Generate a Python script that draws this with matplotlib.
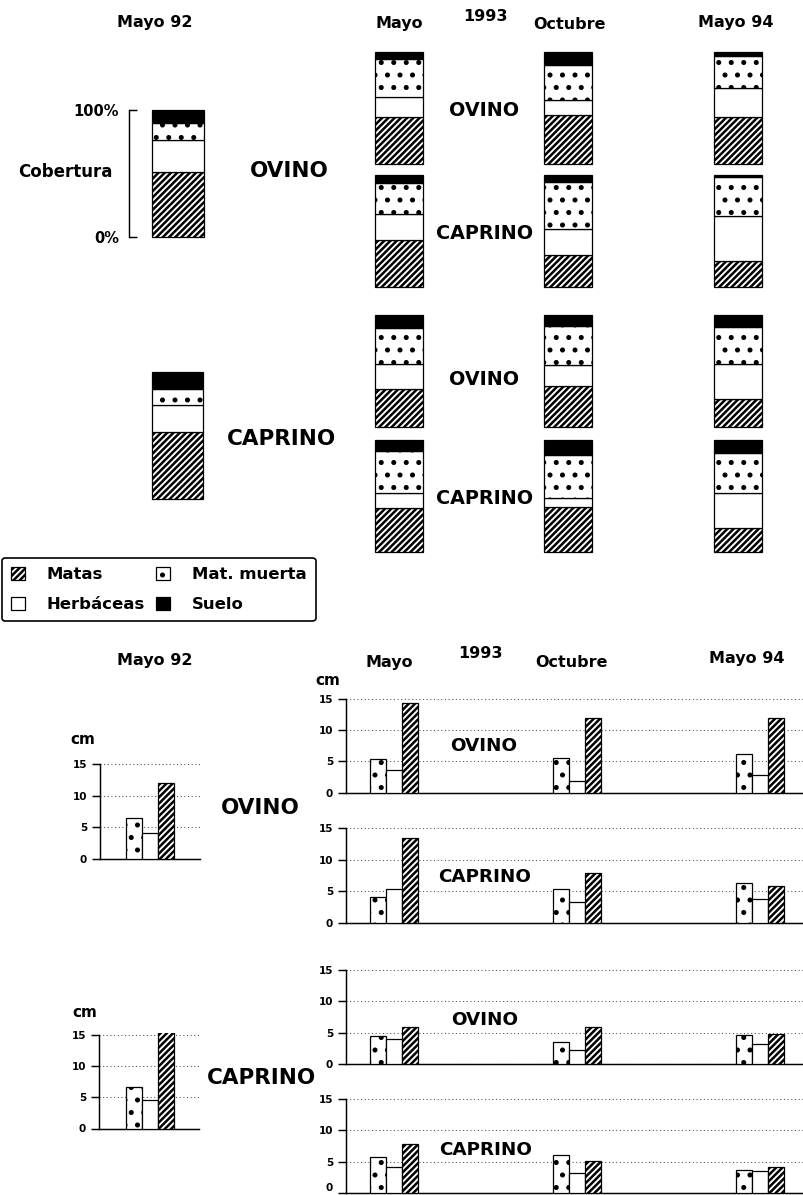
import matplotlib
matplotlib.use("Agg")
import matplotlib.pyplot as plt
import numpy as np

# ---------------------------------------------------------------------------
# Data
# ---------------------------------------------------------------------------
components = ["Matas", "Herbáceas", "Mat. muerta", "Suelo"]   # stacking order (bottom -> top)
height_components = ["Mat. muerta", "Herbáceas", "Matas"]      # bar order inside each group
fechas = ["Mayo 93", "Octubre 93", "Mayo 94"]

# Cobertura (%) in May 1992, per component (Matas, Herbáceas, Mat. muerta, Suelo)
cob_92_ovino = [51, 25.5, 13.5, 10]
cob_92_caprino = [53, 21, 12.5, 13.5]

# Cobertura (%) 1993-94: rows = components, columns = fechas
cob_ovino_ovino = [[42, 44, 42], [18, 13, 26], [34, 31, 28], [6, 12, 4]]
cob_ovino_caprino = [[42, 29, 23], [23, 23, 40], [28, 42, 35], [7, 6, 2]]
cob_caprino_ovino = [[34, 37, 25], [22, 18, 31], [32, 35, 33], [12, 10, 11]]
cob_caprino_caprino = [[39, 40, 21], [14, 8, 32], [37, 39, 35], [10, 13, 12]]

# Altura (cm) in May 1992 (Mat. muerta, Herbáceas, Matas)
alt_92_ovino = [6.4, 4.05, 12.0]
alt_92_caprino = [6.6, 4.65, 15.9]

# Altura (cm) 1993-94: rows = (Mat. muerta, Herbáceas, Matas), columns = fechas
alt_ovino_ovino = [[5.45, 5.6, 6.2], [3.65, 1.9, 2.85], [14.4, 12.0, 11.9]]
alt_ovino_caprino = [[4.05, 5.35, 6.25], [5.35, 3.35, 3.75], [13.4, 7.9, 5.8]]
alt_caprino_ovino = [[4.45, 3.6, 4.65], [4.0, 2.25, 3.25], [6.0, 6.0, 4.8]]
alt_caprino_caprino = [[5.75, 6.1, 3.7], [4.15, 3.2, 3.55], [7.8, 5.2, 4.25]]

# ---------------------------------------------------------------------------
# Figure setup
# ---------------------------------------------------------------------------
W, H = 803, 1195
DPI = 150
PT = 72.0 / DPI  # points per pixel

plt.rcParams.update({
    "font.family": ["DejaVu Sans"],
    "font.weight": "bold",
    "hatch.linewidth": 1.2,
    "hatch.color": "black",
    "axes.linewidth": 0.7,
})

fig = plt.figure(figsize=(W / DPI, H / DPI), dpi=DPI)

STYLE = {
    "Matas": dict(facecolor="white", hatch="////////"),
    "Herbáceas": dict(facecolor="white"),
    "Mat. muerta": dict(facecolor="white", hatch=".."),
    "Suelo": dict(facecolor="black"),
}


def px_axes(x0, y0, x1, y1):
    """Axes placed by pixel box (y measured from the top)."""
    return fig.add_axes([x0 / W, 1 - y1 / H, (x1 - x0) / W, (y1 - y0) / H])


def ftext(x, y, s, size, ha="center", va="baseline"):
    fig.text(x / W, 1 - y / H, s, fontsize=size, ha=ha, va=va,
             fontweight="bold")


def stacked(ax, xs, values, width):
    bottom = np.zeros(len(xs))
    handles = []
    for name, vals in zip(components, values):
        vals = np.atleast_1d(np.asarray(vals, dtype=float))
        h = ax.bar(xs, vals, width, bottom=bottom, edgecolor="black",
                   linewidth=0.6, label=name, clip_on=False, **STYLE[name])
        bottom = bottom + vals
        handles.append(h)
    ax.set_ylim(0, 100)
    return handles


# ---------------------------------------------------------------------------
# Cobertura: May 1992
# ---------------------------------------------------------------------------
ax = px_axes(152, 110, 204, 237)
leg_handles = stacked(ax, [0], [[v] for v in cob_92_ovino], 1.0)
ax.set_xlim(-0.5, 0.5)
for s in ("top", "right", "bottom"):
    ax.spines[s].set_visible(False)
ax.spines["left"].set_position(("outward", 23 * PT))
ax.set_xticks([])
ax.set_yticks([0, 100])
ax.set_yticklabels(["0%", "100%"])
ax.tick_params(axis="y", direction="in", length=8 * PT, width=0.7,
               pad=10 * PT, labelsize=7)

ax = px_axes(152, 372, 203, 499)
stacked(ax, [0], [[v] for v in cob_92_caprino], 1.0)
ax.set_xlim(-0.5, 0.5)
ax.set_axis_off()

# ---------------------------------------------------------------------------
# Cobertura: 1993-94
# ---------------------------------------------------------------------------
c0, step, bw = 399.0, 169.25, 48.0
xs = np.arange(len(fechas))
for (y0, y1), vals in zip([(52, 164), (175, 287), (315, 427), (440, 552)],
                          [cob_ovino_ovino, cob_ovino_caprino,
                           cob_caprino_ovino, cob_caprino_caprino]):
    ax = px_axes(375, y0, 762, y1)
    stacked(ax, xs, vals, bw / step)
    ax.set_xlim((375 - c0) / step, (762 - c0) / step)
    ax.set_axis_off()

# ---------------------------------------------------------------------------
# Altura charts
# ---------------------------------------------------------------------------
g0, gstep = 394.0, 183.0
BW = 0.086
TOP = 15.25


def heights(x0, x1, y15, y0, centers, vals, center0):
    span = (y0 - y15) / 15.0
    ax = px_axes(x0, y15 - (TOP - 15) * span, x1, y0)
    for off, name, v in zip((-BW, 0, BW), height_components, vals):
        ax.bar(np.asarray(centers, dtype=float) + off, v, BW,
               edgecolor="black", linewidth=0.6, zorder=3, **STYLE[name])
    ax.set_ylim(0, TOP)
    ax.set_xlim((x0 - center0) / gstep, (x1 - center0) / gstep)
    ax.set_yticks([0, 5, 10, 15])
    ax.set_xticks([])
    ax.spines["top"].set_visible(False)
    ax.spines["right"].set_visible(False)
    ax.spines["left"].set_bounds(0, 15)
    ax.yaxis.grid(True, linestyle=(0, (1, 2.5)), color="0.3", linewidth=0.5)
    ax.set_axisbelow(True)
    ax.tick_params(axis="y", length=8 * PT, width=0.7, pad=5 * PT,
                   labelsize=5)
    for lab in ax.get_yticklabels():
        lab.set_fontweight("bold")
    return ax


heights(100, 200, 764, 859, [0], [[v] for v in alt_92_ovino], 150)
heights(99, 199, 1035, 1128.5, [0], [[v] for v in alt_92_caprino], 150)

last = None
for (y15, y0), vals in zip([(699, 792.7), (828.3, 922.7),
                            (970, 1064.3), (1099, 1193.3)],
                           [alt_ovino_ovino, alt_ovino_caprino,
                            alt_caprino_ovino, alt_caprino_caprino]):
    last = heights(346, 803, y15, y0, xs, vals, g0)

# keep the bottom-most "0" inside the canvas
fig.canvas.draw()
last.get_yticklabels()[0].set_verticalalignment("bottom")

# ---------------------------------------------------------------------------
# Text
# ---------------------------------------------------------------------------
HDR = 7.7
for (m92, my, y93, oc, m94) in [
        ((155, 27.5), (399, 28.3), (485, 20.7), (570, 29), (736, 26.7)),
        ((155, 665), (389, 667), (480, 658), (571, 667.3), (747, 663.3))]:
    ftext(m92[0], m92[1], "Mayo 92", HDR)
    ftext(my[0], my[1], "Mayo", HDR)
    ftext(y93[0], y93[1], "1993", HDR)
    ftext(oc[0], oc[1], "Octubre", HDR)
    ftext(m94[0], m94[1], "Mayo 94", HDR)

ftext(18, 177, "Cobertura", 8, ha="left")

BIG = 10.3
ftext(289, 177, "OVINO", BIG)
ftext(282, 445, "CAPRINO", BIG)
ftext(260, 814, "OVINO", BIG)
ftext(261.5, 1084, "CAPRINO", BIG)

MID = 9.2
ftext(484, 116, "OVINO", MID)
ftext(485, 239.3, "CAPRINO", MID)
ftext(484, 385, "OVINO", MID)
ftext(485, 504, "CAPRINO", MID)

LOW = 8.8
ftext(484, 751, "OVINO", LOW)
ftext(485, 882, "CAPRINO", LOW)
ftext(484.7, 1025, "OVINO", LOW)
ftext(485.5, 1155, "CAPRINO", LOW)

ftext(82.5, 744, "cm", 7.3)
ftext(84.5, 1017, "cm", 7.3)
ftext(328, 685, "cm", 7.3)

# ---------------------------------------------------------------------------
# Legend
# ---------------------------------------------------------------------------
leg = fig.legend(leg_handles, components,
                 loc="upper left", bbox_to_anchor=(2 / W, 1 - 558 / H),
                 ncol=2, frameon=True, fancybox=True, edgecolor="black",
                 framealpha=1, fontsize=7.9, handlelength=0.85,
                 handleheight=0.85, handletextpad=1.3, columnspacing=0.7,
                 borderpad=0.56, labelspacing=0.88, borderaxespad=0)
leg.get_frame().set_linewidth(0.8)
for t in leg.get_texts():
    t.set_fontweight("bold")

fig.savefig("out.png", dpi=DPI)
